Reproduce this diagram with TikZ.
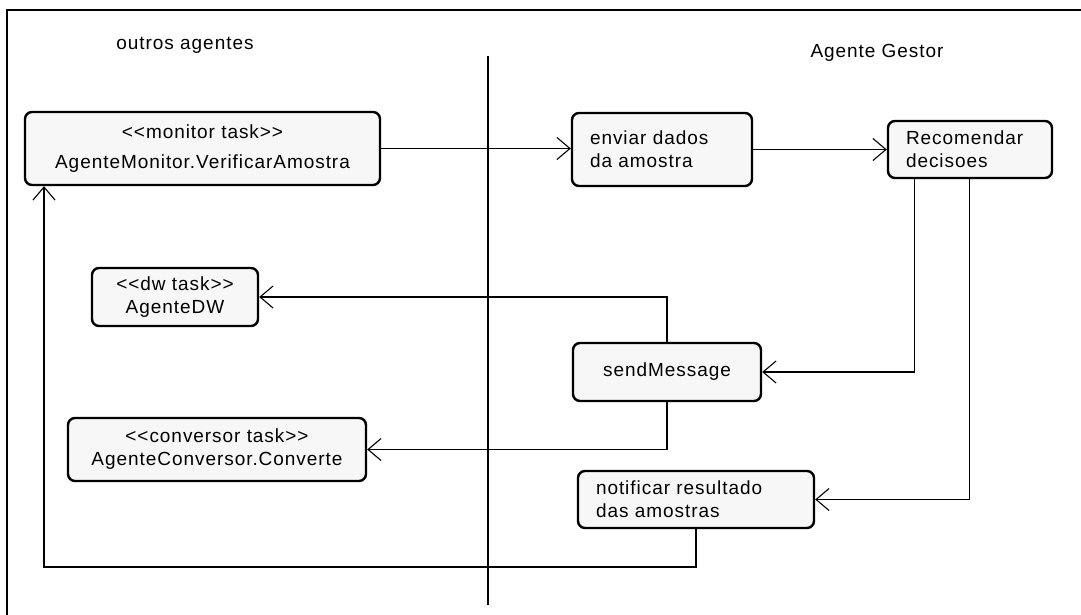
\documentclass[tikz,border=0pt]{standalone}
\usepackage{fontspec}
\setmainfont{Liberation Sans}[LetterSpace=5]
\usetikzlibrary{arrows.meta,positioning}

\begin{document}
\begin{tikzpicture}[x=1pt,y=-1pt,
	task/.style={draw,line width=2.4pt,rounded corners=7pt,fill=gray!6,inner sep=0pt,align=center,
		font=\fontsize{19}{23}\selectfont},
	act/.style={task,align=left,inner xsep=18pt},
	flow/.style={line width=1.1pt,-{Straight Barb[length=13pt,width=22pt,line width=1.1pt]}}]
	\useasboundingbox (0,0) rectangle (1081,615);
	% frame and lanes
	\draw[line width=2pt] (7,615) -- (7,10) -- (1081,10);
	\draw[line width=1.1pt] (488,56) -- (488,605);
	\node[font=\fontsize{19}{23}\selectfont] (outros) at (185,45) {outros agentes};
	\node[font=\fontsize{19}{23}\selectfont] (gestor) at (877,53) {Agente Gestor};
	% tasks of the other agents
	\node[task,minimum width=355pt,minimum height=73pt] (mon) at (202.5,148.5) {{<}{<}monitor task{>}{>}\\[7pt]AgenteMonitor.VerificarAmostra};
	\node[task,minimum width=166pt,minimum height=58pt] (dw) at (175,297) {{<}{<}dw task{>}{>}\\AgenteDW};
	\node[task,minimum width=298pt,minimum height=63pt] (conv) at (217,449.5) {{<}{<}conversor task{>}{>}\\AgenteConversor.Converte};
	% activities of the manager
	\node[act,text width=144pt,minimum height=73pt] (env) at (662,149.5) {enviar dados\\da amostra};
	\node[act,text width=128pt,minimum height=57pt] (rec) at (970,149.5) {Recomendar\\decisoes};
	\node[task,minimum width=188pt,minimum height=58pt] (snd) at (667,372) {sendMessage};
	\node[act,text width=200pt,minimum height=57pt] (notif) at (696,499.5) {notificar resultado\\das amostras};
	\coordinate (back) at (44,567);
	% connectors
	\draw[flow] (mon.east) -- (mon.east -| env.west);
	\draw[flow] (env.east) -- (rec.west);
	\draw[flow] (rec.south west) ++(28,0) |- (snd.east);
	\draw[flow] (rec.south west) ++(83,0) |- (notif.east);
	\draw[flow] (snd.north) |- (dw.east);
	\draw[flow] (snd.south) |- (conv.east);
	\draw[flow] (notif.south) |- (back) -- (mon.south -| back);
\end{tikzpicture}
\end{document}
